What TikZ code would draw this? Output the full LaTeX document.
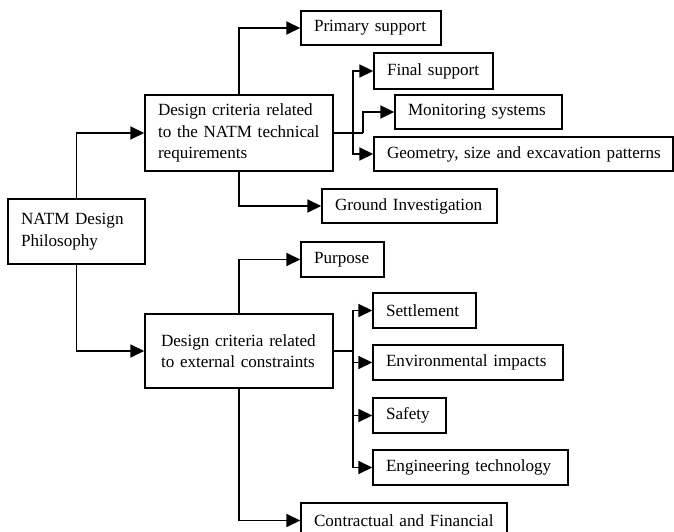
\documentclass[tikz,border=0pt]{standalone}
\usepackage{fontspec}
\setmainfont{Liberation Serif}
\usetikzlibrary{arrows.meta}
\begin{document}
\begin{tikzpicture}[x=1pt,y=-1pt,
  box/.style={draw, line width=1.4pt, inner xsep=13pt, inner ysep=0pt, align=left,
    font=\fontsize{17.1}{21.7}\selectfont, anchor=center},
  link/.style={line width=1.6pt},
  arr/.style={link, -{Triangle[length=14pt,width=13pt]}}]
\useasboundingbox (0,0) rectangle (674,532);
% box helper: corners given as (x1,y1)-(x2,y2); each text line is kept unbroken
\newcommand{\bx}[6]{%
  \pgfmathsetmacro{\bw}{#4-#2}\pgfmathsetmacro{\bh}{#5-#3}%
  \pgfmathsetmacro{\tw}{#4-#2-26}%
  \node[box, minimum width=\bw pt, minimum height=\bh pt, text width=\tw pt]
    (#1) at ({(#2+#4)/2},{(#3+#5)/2+1}) {#6};}
\bx{nat}{8}{198}{145}{263}{\mbox{NATM Design}\\\mbox{Philosophy}}
\bx{tech}{145}{94}{333}{170}{\mbox{Design criteria related}\\\mbox{to the NATM technical}\\\mbox{requirements}}
\bx{prim}{301}{10}{441}{44}{\mbox{Primary support}}
\bx{fin}{374}{52}{493}{88}{\mbox{Final support}}
\bx{mon}{395}{94}{562}{128}{\mbox{Monitoring systems}}
\bx{geo}{374}{136}{673}{170}{\mbox{Geometry, size and excavation patterns}}
\bx{gro}{322}{188}{497}{222}{\mbox{Ground Investigation}}
\bx{pur}{301}{241}{384}{276}{\mbox{Purpose}}
\bx{ext}{145}{313}{333}{387}{\hspace*{3pt}\mbox{Design criteria related}\\\hspace*{3pt}\mbox{to external constraints}}
\bx{con}{301}{502}{507}{537}{\mbox{Contractual and Financial}}
\bx{set}{373}{292}{476}{327}{\mbox{Settlement}}
\bx{env}{373}{344}{563}{379}{\mbox{Environmental impacts}}
\bx{saf}{373}{397}{446}{432}{\mbox{Safety}}
\bx{eng}{373}{449}{568}{484}{\mbox{Engineering technology}}
% branch points
\coordinate (tb) at (353,133);
\coordinate (tm) at (363,133);
\coordinate (eb) at (353,351);
% root to criteria
\draw[arr] (nat.north) |- (tech.west);
\draw[arr] (nat.south) |- (ext.west);
% technical requirements
\draw[arr] (tech.north) |- (prim.west);
\draw[arr] (tech.south) |- (gro.west);
\draw[link] (tech.east) -- (tm);
\draw[arr] (tb) |- (fin.west);
\draw[arr] (tb) |- (geo.west);
\draw[arr] (tm) |- (mon.west);
% external constraints
\draw[arr] (ext.north) |- (pur.west);
\draw[arr] (ext.south) |- (con.west);
\draw[link] (ext.east) -- (eb);
\draw[arr] (eb) |- (set.west);
\draw[arr] (eb) |- (env.west);
\draw[arr] (eb) |- (saf.west);
\draw[arr] (eb) |- (eng.west);
\end{tikzpicture}
\end{document}
